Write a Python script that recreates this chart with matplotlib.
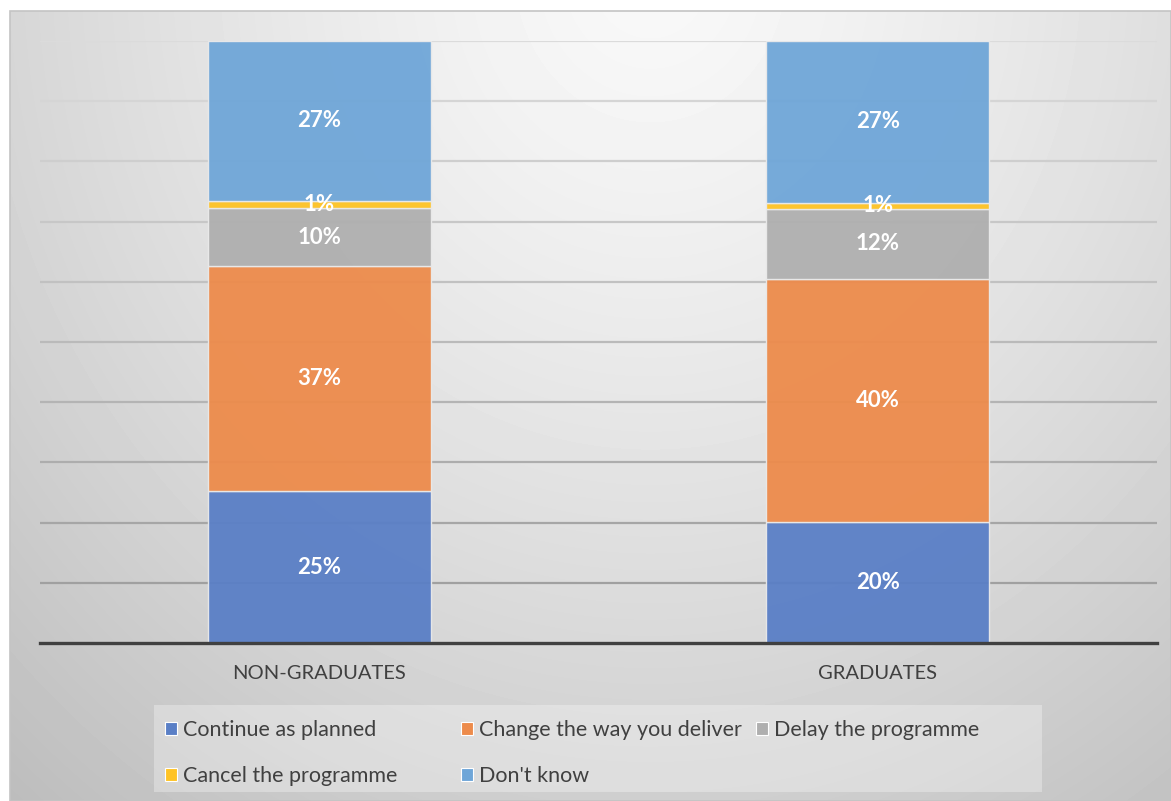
import numpy as np
import matplotlib.pyplot as plt
from matplotlib.patches import Patch, Rectangle

plt.rcParams['font.family'] = ['Lato', 'DejaVu Sans']

# data (percent of respondents)
groups = ['NON-GRADUATES', 'GRADUATES']
series = ['Continue as planned', 'Change the way you deliver', 'Delay the programme',
          'Cancel the programme', "Don't know"]
continue_planned = [25.2, 20.1]
change_delivery = [37.4, 40.4]
delay_programme = [9.6, 11.6]
cancel_programme = [1.3, 1.0]
dont_know = [26.5, 26.9]
labels_shown = [[25, 20], [37, 40], [10, 12], [1, 1], [27, 27]]

colors = ['#5a7fc6', '#ed8b4b', '#afafaf', '#fec325', '#6fa6d8']
values = [continue_planned, change_delivery, delay_programme, cancel_programme, dont_know]

W, H = 1171, 801
fig = plt.figure(figsize=(W / 100, H / 100), dpi=100)

# soft radial grey background like the office chart area
bg = fig.add_axes([10 / W, 0, (W - 10) / W, (H - 11) / H], zorder=0)
yy, xx = np.mgrid[0:H - 11, 0:W - 10]
r = np.sqrt(((xx - 640) / 900.0) ** 2 + ((yy + 40) / 1000.0) ** 2)
shade = np.clip(0.975 - 0.21 * r ** 1.3, 0, 1)
bg.imshow(shade, cmap='gray', vmin=0, vmax=1, aspect='auto', interpolation='bilinear')
bg.axis('off')
fig.add_artist(Rectangle((10 / W, 0), (W - 10) / W, (H - 11) / H, transform=fig.transFigure,
                         facecolor='none', edgecolor='#c4c4c4', lw=1.2, zorder=0.5))

ax = fig.add_axes([40 / W, 158 / H, 1117 / W, 602 / H], zorder=1)
ax.set_facecolor('none')

x = np.arange(len(groups))
bottom = np.zeros(len(groups))
for name, vals, col, shown in zip(series, values, colors, labels_shown):
    bars = ax.bar(x, vals, width=0.4, bottom=bottom, color=col, edgecolor='#eaeaea',
                  linewidth=1.0, label=name, alpha=0.95, zorder=3)
    for b, v, s in zip(bars, vals, shown):
        ax.text(b.get_x() + b.get_width() / 2, b.get_y() + v / 2, f'{s}%',
                ha='center', va='center', color='white', fontsize=16,
                fontweight='bold', zorder=4)
    bottom += np.array(vals)

ax.set_xlim(-0.5, 1.5)
ax.set_ylim(0, 100)
# gridlines fade lighter towards the top, as in the original
for g in np.arange(10, 101, 10):
    lvl = 0.6 + 0.26 * (g / 100.0)
    ax.axhline(g, color=str(lvl), lw=1.6, zorder=1)
ax.set_yticks([])
ax.tick_params(axis='x', bottom=False, pad=12, labelsize=14.5, labelcolor='#404040')
ax.set_xticks(x)
ax.set_xticklabels(groups)
for s in ['top', 'right', 'left']:
    ax.spines[s].set_visible(False)
ax.spines['bottom'].set_color('#404040')
ax.spines['bottom'].set_linewidth(2.4)
ax.spines['bottom'].set_zorder(5)

# legend box, one legend per column so the columns sit where they do in the original
fig.add_artist(Rectangle((154 / W, 1 - 792 / H), 888 / W, 87 / H, transform=fig.transFigure,
                         facecolor='white', alpha=0.3, edgecolor='none', zorder=1))
handles = [Patch(facecolor=c, edgecolor='white', lw=0.8) for c in colors]
columns = [[0, 3], [1, 4], [2]]
col_x = [150, 446, 741]
for idx, cx in zip(columns, col_x):
    leg = fig.legend([handles[i] for i in idx], [series[i] for i in idx],
                     loc='upper left', bbox_to_anchor=(cx / W, 1 - 705 / H), frameon=False,
                     fontsize=15.5, handlelength=0.55, handleheight=0.55, handletextpad=0.3,
                     labelspacing=1.2, borderpad=0.2)
    for t in leg.get_texts():
        t.set_color('#404040')
    leg.set_zorder(2)

fig.savefig('out.png', dpi=100)
